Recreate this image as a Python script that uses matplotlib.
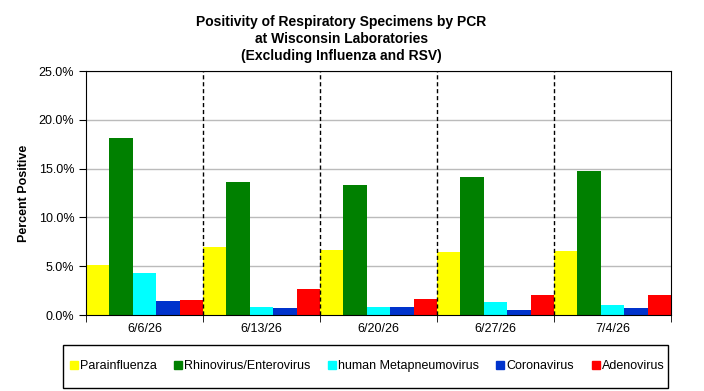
import numpy as np
import matplotlib
matplotlib.use("Agg")
import matplotlib.pyplot as plt
from matplotlib.patches import Rectangle

plt.rcParams['font.family'] = ['Liberation Sans', 'DejaVu Sans']

weeks = ["6/6/26", "6/13/26", "6/20/26", "6/27/26", "7/4/26"]
parainfluenza = [5.1, 7.0, 6.7, 6.5, 6.6]
rhino_entero = [18.1, 13.6, 13.3, 14.1, 14.8]
hmpv = [4.3, 0.8, 0.8, 1.3, 1.0]
coronavirus = [1.4, 0.7, 0.8, 0.5, 0.7]
adenovirus = [1.5, 2.7, 1.6, 2.0, 2.0]

series = [
    ("Parainfluenza", parainfluenza, "#FFFF00"),
    ("Rhinovirus/Enterovirus", rhino_entero, "#008000"),
    ("human Metapneumovirus", hmpv, "#00FFFF"),
    ("Coronavirus", coronavirus, "#0033CC"),
    ("Adenovirus", adenovirus, "#FF0000"),
]

fig = plt.figure(figsize=(7.04, 3.91), dpi=100)
ax = fig.add_axes([86/704, 1-315/391, 585/704, 244/391])

x = np.arange(len(weeks))
w = 1/len(series)
for i, (name, vals, col) in enumerate(series):
    ax.bar(x - 0.5 + w*(i+0.5), vals, width=w, color=col, label=name, zorder=2)

ax.set_xlim(-0.5, len(weeks)-0.5)
ax.set_ylim(0, 25)
ax.set_yticks(np.arange(0, 26, 5))
ax.set_yticklabels([f"{v:.1f}%" for v in np.arange(0, 26, 5)], fontsize=9)
ax.yaxis.grid(True, color="#BBBBBB", linewidth=1, zorder=0)
ax.set_axisbelow(True)

ax.set_xticks(x)
ax.set_xticklabels(weeks, fontsize=9)
ax.tick_params(axis='x', which='major', length=0, pad=6)
ax.set_xticks(np.arange(-0.5, len(weeks)), minor=True)
ax.tick_params(axis='x', which='minor', length=5, color='black')
ax.tick_params(axis='y', length=5)

for b in np.arange(0.5, len(weeks)-0.5):
    ax.axvline(b, color='black', linestyle=(0, (3, 2)), linewidth=1, zorder=3)
for s in ax.spines.values():
    s.set_color('black')

ax.set_ylabel("Percent Positive", fontsize=9, fontweight='bold', labelpad=6)

fig.text(0.485, 1-39/391, "Positivity of Respiratory Specimens by PCR\nat Wisconsin Laboratories\n(Excluding Influenza and RSV)",
         ha='center', va='center', fontsize=10, fontweight='bold', linespacing=1.25)

# legend box
fig.patches.append(Rectangle((63/704, 1-388/391), 605/704, 43/391, transform=fig.transFigure,
                             fill=False, edgecolor='black', linewidth=1))
proxies = [plt.Line2D([], [], marker='s', linestyle='', color=c, markersize=6) for _, _, c in series]
fig.legend(proxies, [s[0] for s in series], loc='center', bbox_to_anchor=(366/704, 1-366/391),
           ncol=5, frameon=False, fontsize=9, handletextpad=0.0, columnspacing=1.2, handlelength=1.0)

fig.savefig("out.png", dpi=100)
